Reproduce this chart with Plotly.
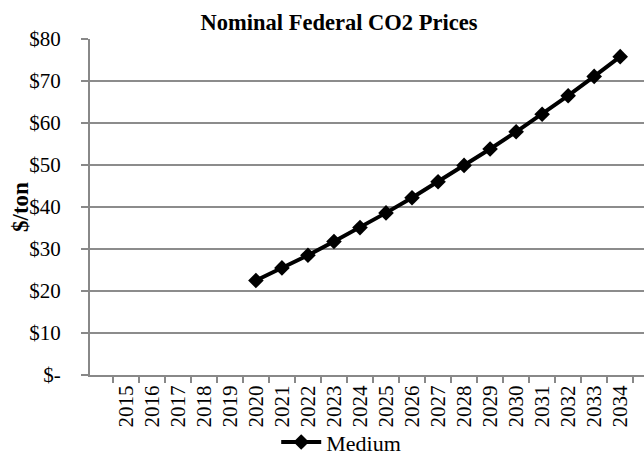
import plotly.graph_objects as go

years = [str(y) for y in range(2015, 2035)]
medium = [None, None, None, None, None,
          22.5, 25.5, 28.5, 31.8, 35.1, 38.6, 42.2, 46.0, 49.9, 53.8,
          57.9, 62.1, 66.5, 71.1, 75.8]
y_tickvals = [0, 10, 20, 30, 40, 50, 60, 70, 80]
y_ticktext = ["$-", "$10", "$20", "$30", "$40", "$50", "$60", "$70", "$80"]

font_family = "Liberation Serif, Times New Roman, serif"

fig = go.Figure()
fig.add_trace(go.Scatter(
    x=years, y=medium, name="Medium", mode="lines+markers",
    line=dict(color="black", width=4),
    marker=dict(symbol="diamond", size=12, color="black"),
    connectgaps=False,
))

W = 656  # plot area intentionally runs slightly past the 644px window, as in the reference
fig.update_layout(
    width=W, height=455,
    margin=dict(l=90, r=0, t=39, b=80, autoexpand=False),
    paper_bgcolor="white", plot_bgcolor="white",
    font=dict(family=font_family, color="black", size=21),
    title=dict(text="<b>Nominal Federal CO2 Prices</b>", x=339 / W, xanchor="center",
               y=0.952, yanchor="middle", font=dict(size=22.5), automargin=False),
    showlegend=True,
    legend=dict(orientation="h", x=0.329, xanchor="left", y=-0.2, yanchor="middle",
                font=dict(size=22), itemwidth=40, bgcolor="rgba(0,0,0,0)"),
    xaxis=dict(
        type="category", showgrid=False, showline=True, linecolor="#888888", linewidth=2,
        ticks="outside", tickson="boundaries", ticklen=6, tickcolor="#888888", tickwidth=1.5,
        tickangle=-90, tickfont=dict(size=21), automargin=False,
        tickmode="array", tickvals=years, ticktext=years,
    ),
    yaxis=dict(
        range=[0, 80], tickvals=y_tickvals, ticktext=y_ticktext,
        showgrid=True, gridcolor="#8c8c8c", gridwidth=1.5,
        showline=True, linecolor="#888888", linewidth=2,
        ticks="outside", ticklen=7, tickcolor="#888888", tickwidth=1.5,
        tickfont=dict(size=21), zeroline=False, automargin=False,
        ticklabelstandoff=16,
    ),
    annotations=[dict(
        text="<b>$/ton</b>", xref="paper", yref="paper", x=(20 - 90) / (W - 90), y=0.5,
        xanchor="center", yanchor="middle", textangle=-90, showarrow=False,
        font=dict(size=23),
    )],
)

fig.write_html(
    "out.html",
    config={"displayModeBar": False},
    post_script="document.body.style.margin='0px';document.body.style.overflow='hidden';"
                "document.documentElement.style.overflow='hidden';",
)
